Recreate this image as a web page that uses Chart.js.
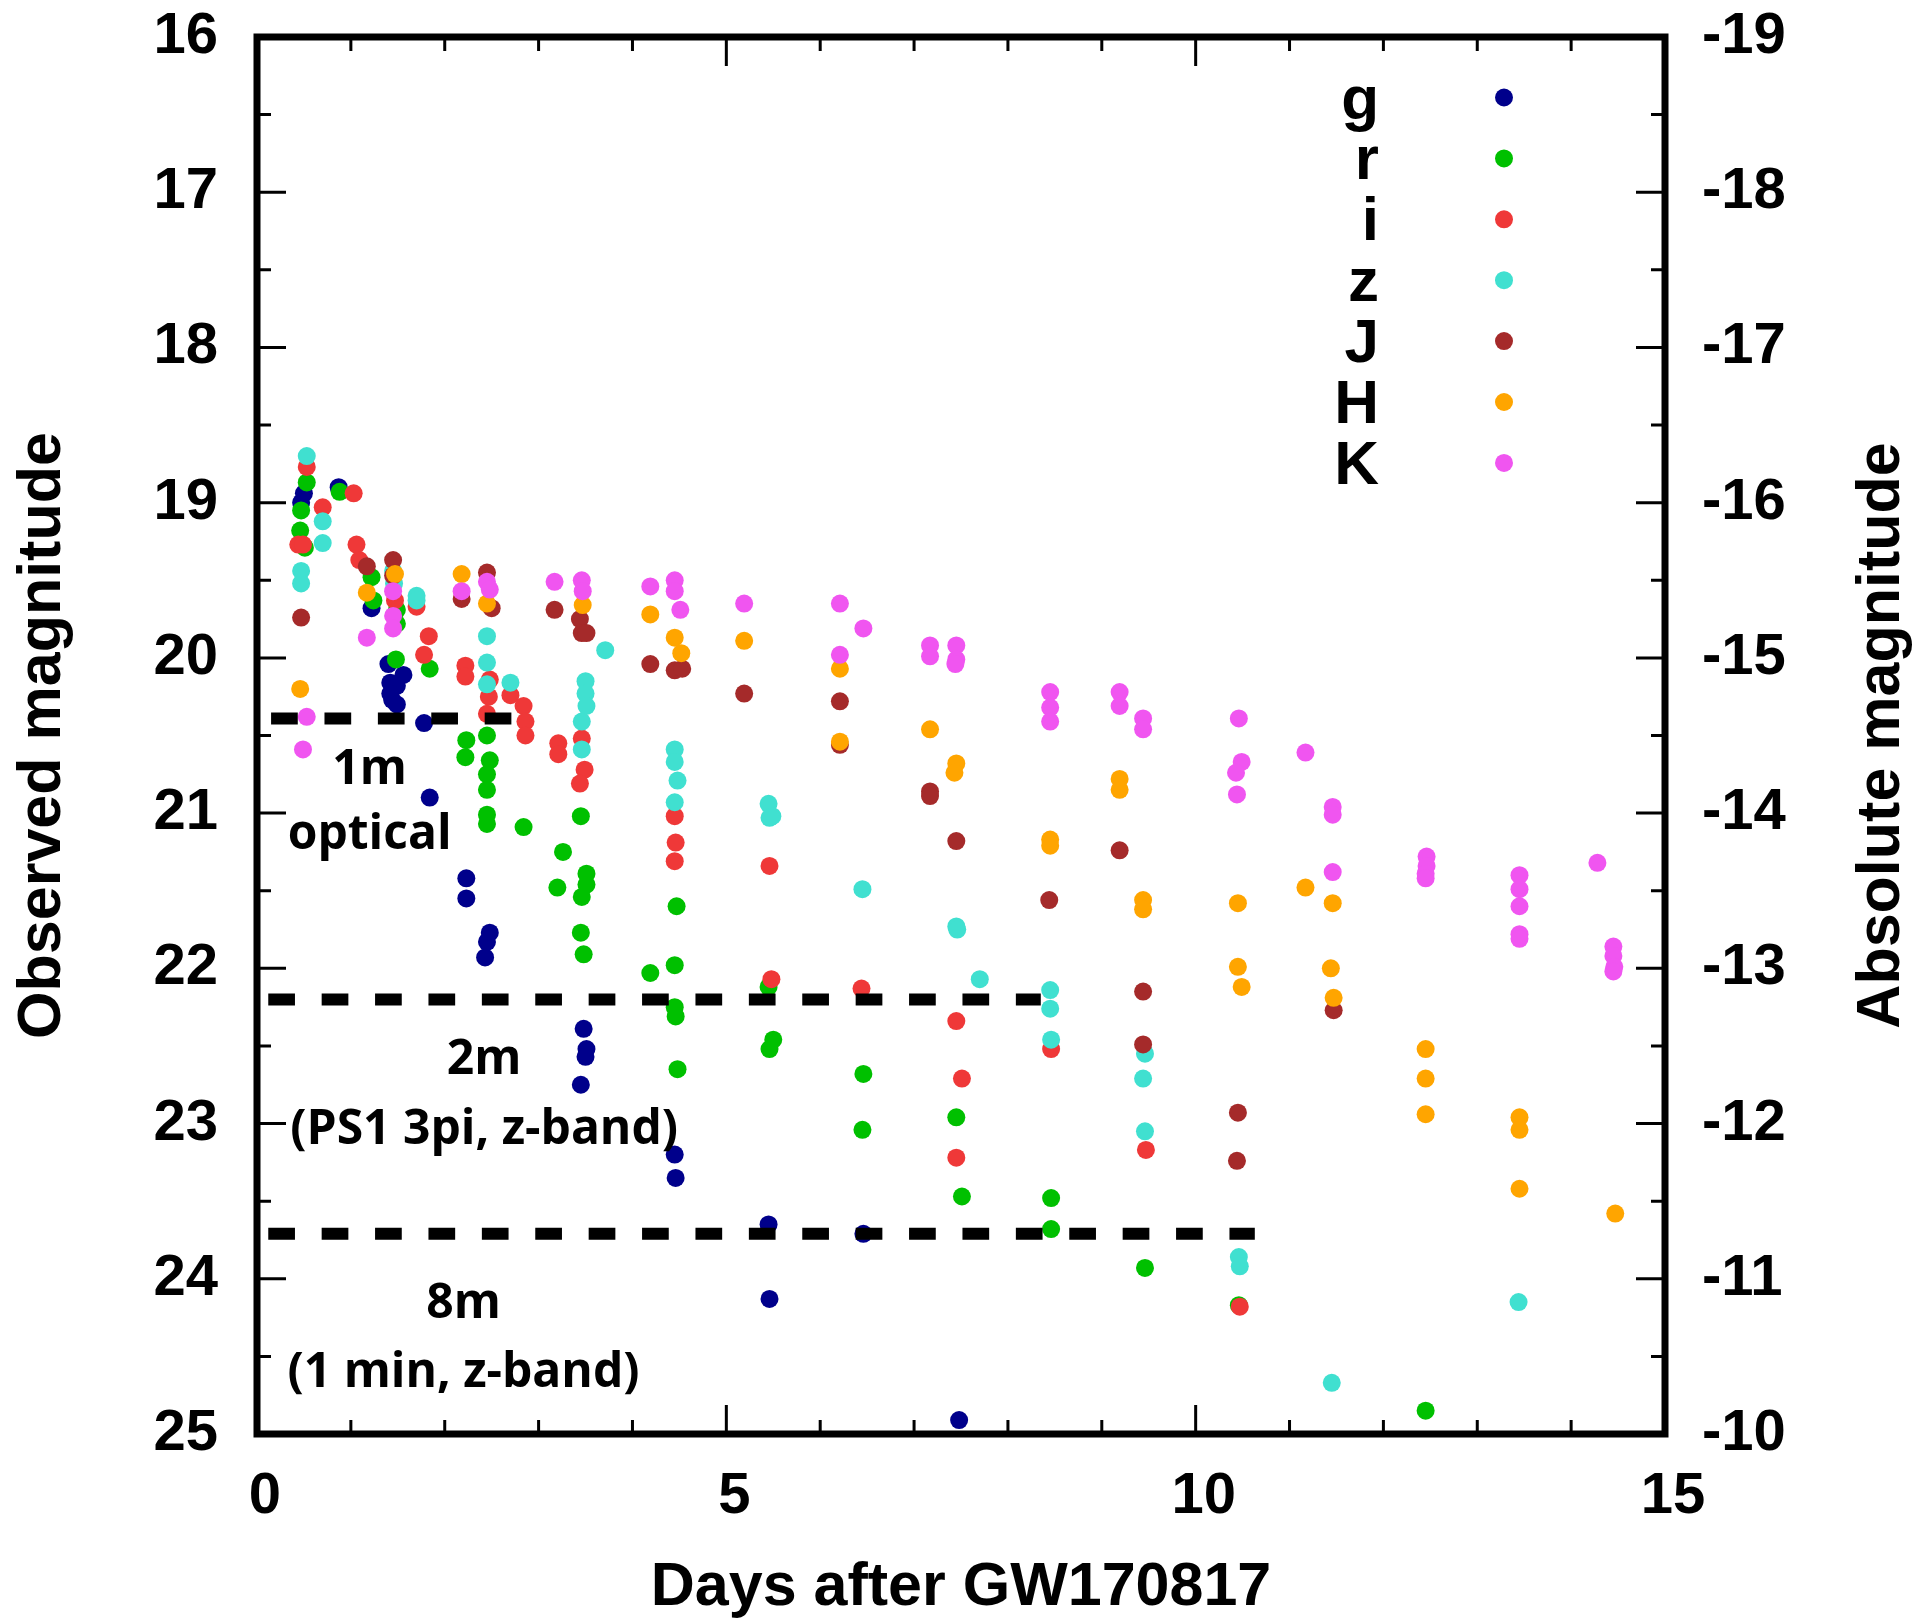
<!DOCTYPE html>
<html>
<head>
<meta charset="utf-8">
<title>Light curves after GW170817</title>
<script src="https://cdn.jsdelivr.net/npm/chart.js@4.4.0/dist/chart.umd.min.js"></script>
<style>
  html, body { margin: 0; padding: 0; background: #fff; }
  canvas { display: block; }
</style>
</head>
<body>
<canvas id="lightcurve" width="1930" height="1621"></canvas>
<script>
// [days after GW170817, observed magnitude]
var gBand = [
  [0.50, 18.94], [0.47, 19.00], [0.87, 18.90], [1.22, 19.68],
  [1.40, 20.04], [1.56, 20.11], [1.42, 20.16], [1.49, 20.18], [1.42, 20.23], [1.44, 20.27], [1.49, 20.30],
  [1.78, 20.42], [1.84, 20.90], [2.23, 21.42], [2.23, 21.55], [2.48, 21.77], [2.45, 21.83], [2.43, 21.93],
  [3.48, 22.39], [3.51, 22.52], [3.50, 22.57], [3.45, 22.75], [4.45, 23.20], [4.46, 23.35],
  [5.45, 23.65], [5.46, 24.13], [6.46, 23.71], [7.48, 24.91]
];
var rBand = [
  [0.53, 18.87], [0.47, 19.05], [0.46, 19.18], [0.51, 19.29], [0.88, 18.93],
  [1.22, 19.48], [1.24, 19.63], [1.49, 19.69], [1.49, 19.78], [1.48, 20.01], [1.84, 20.07],
  [2.23, 20.53], [2.22, 20.64], [2.45, 20.50], [2.48, 20.66], [2.45, 20.75], [2.45, 20.85], [2.45, 21.01], [2.45, 21.07],
  [2.84, 21.09], [3.26, 21.25], [3.20, 21.48], [3.45, 21.02], [3.51, 21.39], [3.51, 21.46], [3.46, 21.54], [3.45, 21.77], [3.48, 21.91],
  [4.19, 22.03], [4.47, 21.60], [4.45, 21.98], [4.45, 22.25], [4.46, 22.31], [4.48, 22.65],
  [5.45, 22.12], [5.50, 22.46], [5.46, 22.52], [6.46, 22.68], [6.45, 23.04],
  [7.45, 22.96], [7.51, 23.47], [8.46, 23.48], [8.46, 23.68], [9.46, 23.93], [10.46, 24.17], [12.45, 24.85]
];
var iBand = [
  [0.53, 18.77], [0.44, 19.27], [0.49, 19.27], [0.70, 19.03], [1.03, 18.94], [1.06, 19.27], [1.09, 19.37],
  [1.47, 19.63], [1.70, 19.67], [1.83, 19.86], [1.78, 19.98],
  [2.22, 20.05], [2.22, 20.12], [2.48, 20.14], [2.47, 20.25], [2.45, 20.36],
  [2.70, 20.24], [2.84, 20.31], [2.86, 20.41], [2.86, 20.50], [3.21, 20.55], [3.21, 20.62],
  [3.46, 20.52], [3.49, 20.72], [3.44, 20.81],
  [4.45, 21.02], [4.46, 21.19], [4.45, 21.31], [5.46, 21.34], [5.48, 22.07], [6.44, 22.13],
  [7.45, 22.34], [7.51, 22.71], [7.45, 23.22], [8.46, 22.52], [9.47, 23.17], [10.47, 24.18]
];
var zBand = [
  [0.53, 18.70], [0.47, 19.44], [0.47, 19.52], [0.70, 19.12], [0.70, 19.26],
  [1.45, 19.44], [1.46, 19.52], [1.70, 19.60], [1.70, 19.63],
  [2.45, 19.86], [2.45, 20.03], [2.45, 20.17], [2.70, 20.16],
  [3.50, 20.15], [3.50, 20.23], [3.51, 20.31], [3.46, 20.41], [3.46, 20.59], [3.71, 19.95],
  [4.45, 20.59], [4.45, 20.67], [4.48, 20.79], [4.45, 20.93],
  [5.45, 20.94], [5.49, 21.02], [5.46, 21.03], [6.45, 21.49],
  [7.45, 21.73], [7.46, 21.75], [7.70, 22.07],
  [8.45, 22.14], [8.45, 22.26], [8.46, 22.46],
  [9.46, 22.55], [9.44, 22.71], [9.46, 23.05],
  [10.46, 23.86], [10.47, 23.92], [11.45, 24.67], [13.44, 24.15]
];
var JBand = [
  [0.47, 19.74], [1.17, 19.41], [1.45, 19.37], [1.45, 19.47], [2.18, 19.62], [2.45, 19.45], [2.50, 19.68],
  [3.17, 19.69], [3.44, 19.75], [3.46, 19.84], [3.51, 19.84],
  [4.19, 20.04], [4.45, 20.08], [4.53, 20.07], [5.19, 20.23], [6.21, 20.28], [6.21, 20.56],
  [7.17, 20.86], [7.17, 20.89], [7.45, 21.18], [8.44, 21.56], [9.19, 21.24],
  [9.44, 22.15], [9.44, 22.49], [10.45, 22.93], [10.44, 23.24], [11.47, 22.27]
];
var HBand = [
  [0.46, 20.20], [1.17, 19.58], [1.47, 19.46], [2.18, 19.46], [2.45, 19.65], [3.47, 19.66],
  [4.19, 19.72], [4.45, 19.87], [4.52, 19.97], [5.19, 19.89], [6.21, 20.07], [6.21, 20.54],
  [7.17, 20.46], [7.45, 20.68], [7.43, 20.74], [8.45, 21.17], [8.45, 21.21],
  [9.19, 20.78], [9.19, 20.85], [9.44, 21.56], [9.44, 21.62],
  [10.45, 21.58], [10.45, 21.99], [10.49, 22.12],
  [11.17, 21.48], [11.46, 21.58], [11.44, 22.00], [11.47, 22.19],
  [12.45, 22.52], [12.45, 22.71], [12.45, 22.94],
  [13.45, 22.96], [13.45, 23.04], [13.45, 23.42], [14.47, 23.58]
];
var KBand = [
  [0.53, 20.38], [0.49, 20.59], [1.17, 19.87], [1.45, 19.57], [1.45, 19.73], [1.45, 19.81],
  [2.18, 19.57], [2.45, 19.51], [2.48, 19.56], [3.17, 19.51], [3.46, 19.50], [3.47, 19.57],
  [4.19, 19.54], [4.45, 19.50], [4.45, 19.57], [4.51, 19.69], [5.19, 19.65],
  [6.21, 19.65], [6.46, 19.81], [6.21, 19.98],
  [7.17, 19.92], [7.17, 19.99], [7.45, 19.92], [7.45, 20.01], [7.44, 20.04],
  [8.45, 20.22], [8.45, 20.32], [8.45, 20.41], [9.19, 20.22], [9.19, 20.31], [9.44, 20.39], [9.44, 20.46],
  [10.46, 20.39], [10.49, 20.67], [10.43, 20.74], [10.44, 20.88],
  [11.17, 20.61], [11.46, 20.96], [11.46, 21.01], [11.46, 21.38],
  [12.46, 21.28], [12.46, 21.34], [12.45, 21.39], [12.45, 21.42],
  [13.45, 21.40], [13.45, 21.49], [13.45, 21.60], [13.45, 21.78], [13.45, 21.81],
  [14.28, 21.32], [14.45, 21.86], [14.45, 21.92], [14.46, 21.99], [14.45, 22.02]
];

var bands = ['g', 'r', 'i', 'z', 'J', 'H', 'K'];
var bandData = [gBand, rBand, iBand, zBand, JBand, HBand, KBand];
var bandColors = ['#00008b', '#00c000', '#ef3838', '#40e0d0', '#a52a2a', '#ffa500', '#f055f0'];

// telescope limiting magnitudes (dashed lines)
var limitLabels = ['1m', '2m', '8m'];
var limitMag = [20.39, 22.20, 23.71];
var limitFrom = [0.15, 0.12, 0.12];
var limitTo = [2.71, 8.35, 10.63];

var magTicks = [16, 17, 18, 19, 20, 21, 22, 23, 24, 25];
var absTicks = [-19, -18, -17, -16, -15, -14, -13, -12, -11, -10];
var dayTicks = [0, 5, 10, 15];

var notes = [
  { text: '1m', day: 1.20, mag: 20.81 },
  { text: 'optical', day: 1.20, mag: 21.23 },
  { text: '2m', day: 2.42, mag: 22.68 },
  { text: '(PS1 3pi, z-band)', day: 2.42, mag: 23.13 },
  { text: '8m', day: 2.20, mag: 24.25 },
  { text: '(1 min, z-band)', day: 2.20, mag: 24.70 }
];

Chart.defaults.font.family = '"Liberation Sans", Arial, sans-serif';
Chart.defaults.font.weight = 'bold';
Chart.defaults.color = '#000';

var datasets = [];
bands.forEach(function(b, i) {
  datasets.push({
    label: b,
    data: bandData[i].map(function(p) { return { x: p[0], y: p[1] }; }),
    backgroundColor: bandColors[i],
    borderWidth: 0,
    pointRadius: 9,
    order: bands.length - i
  });
});
limitLabels.forEach(function(l, i) {
  datasets.push({
    label: l,
    data: [{ x: limitFrom[i], y: limitMag[i] }, { x: limitTo[i], y: limitMag[i] }],
    showLine: true,
    borderColor: '#000',
    borderWidth: 12,
    borderDash: [26.7, 26.7],
    pointRadius: 0,
    order: 0
  });
});

// vertical axes: fixed width, and no extra room reserved for the end labels
function fixWidth(w) {
  return function(s) {
    s.width = w;
    s.paddingTop = 0;
    s.paddingBottom = 0;
  };
}

var decorations = {
  id: 'decorations',
  afterDatasetsDraw: function(chart) {
    var ctx = chart.ctx, a = chart.chartArea;
    var x = chart.scales.x, y = chart.scales.y;
    ctx.save();
    ctx.strokeStyle = '#000';
    ctx.lineWidth = 3;
    ctx.beginPath();
    for (var m = magTicks[0]; m <= magTicks[magTicks.length - 1]; m += 0.5) {
      var py = y.getPixelForValue(m);
      var len = magTicks.indexOf(m) >= 0 ? 29 : 14;
      ctx.moveTo(a.left, py); ctx.lineTo(a.left + len, py);
      ctx.moveTo(a.right, py); ctx.lineTo(a.right - len, py);
    }
    for (var d = dayTicks[0]; d <= dayTicks[dayTicks.length - 1]; d++) {
      var px = x.getPixelForValue(d);
      var len2 = dayTicks.indexOf(d) >= 0 ? 29 : 14;
      ctx.moveTo(px, a.bottom); ctx.lineTo(px, a.bottom - len2);
      ctx.moveTo(px, a.top); ctx.lineTo(px, a.top + len2);
    }
    ctx.stroke();
    ctx.lineWidth = 7;
    ctx.strokeRect(a.left, a.top, a.right - a.left, a.bottom - a.top);

    // legend
    ctx.font = 'bold 62px "Liberation Sans", Arial, sans-serif';
    ctx.textAlign = 'right';
    ctx.textBaseline = 'alphabetic';
    bands.forEach(function(b, i) {
      var cy = a.top + 60.5 + i * 60.9;
      ctx.fillStyle = '#000';
      ctx.fillText(b, a.left + 1122, cy + 21);
      ctx.fillStyle = bandColors[i];
      ctx.beginPath();
      ctx.arc(a.left + 1247, cy, 9, 0, 2 * Math.PI);
      ctx.fill();
    });

    // limit annotations
    ctx.font = 'bold 48px "Open Sans", sans-serif';
    ctx.textAlign = 'center';
    ctx.fillStyle = '#000';
    notes.forEach(function(n) {
      ctx.fillText(n.text, x.getPixelForValue(n.day), y.getPixelForValue(n.mag));
    });

    // right axis title, reading bottom to top
    ctx.font = 'bold 61px "Liberation Sans", Arial, sans-serif';
    ctx.textBaseline = 'middle';
    ctx.translate(1882, (a.top + a.bottom) / 2);
    ctx.rotate(-Math.PI / 2);
    ctx.fillText('Absolute magnitude', 0, 0);
    ctx.restore();
  }
};

var ctx = document.getElementById('lightcurve');
var lightcurve = new Chart(ctx, {
  type: 'scatter',
  data: { datasets: datasets },
  plugins: [decorations],
  options: {
    responsive: false,
    animation: false,
    devicePixelRatio: 1,
    events: [],
    layout: { padding: { top: 37, left: 0, right: 0, bottom: 0 } },
    plugins: { legend: { display: false }, tooltip: { enabled: false } },
    scales: {
      x: {
        type: 'linear', position: 'bottom', min: 0, max: 15,
        afterBuildTicks: function(s) { s.ticks = dayTicks.map(function(v) { return { value: v }; }); },
        afterFit: function(s) { s.height = 187; s.paddingLeft = 0; s.paddingRight = 0; },
        grid: { display: false, drawTicks: false },
        border: { display: false },
        ticks: { padding: 28, labelOffset: 8, maxRotation: 0, autoSkip: false, font: { size: 58, weight: 'bold' } },
        title: { display: true, text: 'Days after GW170817', font: { size: 61, weight: 'bold', lineHeight: 1 }, padding: { top: 0, bottom: 2 } }
      },
      y: {
        type: 'linear', position: 'left', min: 16, max: 25, reverse: true,
        afterBuildTicks: function(s) { s.ticks = magTicks.map(function(v) { return { value: v }; }); },
        afterFit: fixWidth(257),
        grid: { display: false, drawTicks: false },
        border: { display: false },
        ticks: { padding: 39, font: { size: 58, weight: 'bold' } },
        title: { display: true, text: 'Observed magnitude', font: { size: 61, weight: 'bold', lineHeight: 1 }, padding: { top: 13, bottom: 0 } }
      },
      y2: {
        type: 'linear', position: 'right', min: -19, max: -10, reverse: true,
        afterBuildTicks: function(s) { s.ticks = absTicks.map(function(v) { return { value: v }; }); },
        afterFit: fixWidth(265),
        grid: { display: false, drawTicks: false },
        border: { display: false },
        ticks: { padding: 37, font: { size: 58, weight: 'bold' } }
      }
    }
  }
});
</script>
</body>
</html>
